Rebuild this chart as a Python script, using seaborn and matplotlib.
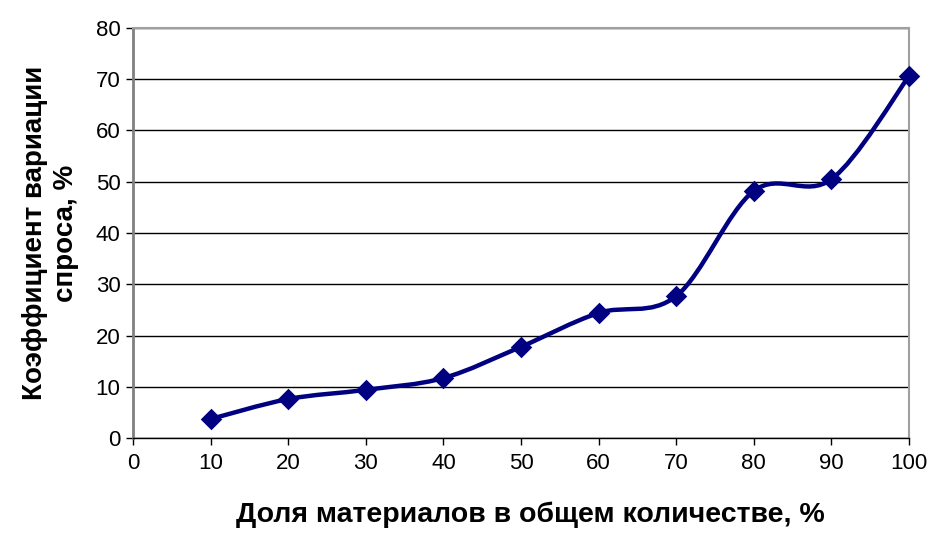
import numpy as np
import pandas as pd
import matplotlib
matplotlib.use("Agg")
import matplotlib.pyplot as plt
from matplotlib.path import Path
from matplotlib.patches import PathPatch
import seaborn as sns

share = [10, 20, 30, 40, 50, 60, 70, 80, 90, 100]
variation = [3.7, 7.6, 9.4, 11.7, 17.8, 24.4, 27.7, 48.2, 50.5, 70.6]

xticks = list(range(0, 101, 10))
yticks = list(range(0, 81, 10))

df = pd.DataFrame({"share": share, "variation": variation})

sns.set_style("white")
plt.rcParams['font.family'] = ['Liberation Sans', 'DejaVu Sans']
plt.rcParams['text.color'] = 'black'
plt.rcParams['axes.labelcolor'] = 'black'
plt.rcParams['xtick.color'] = 'black'
plt.rcParams['ytick.color'] = 'black'

fig = plt.figure(figsize=(9.39, 5.33), dpi=100)
ax = fig.add_axes([0.1416, 0.1782, 0.9681 - 0.1416, 0.9475 - 0.1782])

navy = "#000080"

# smoothed line like Excel (Catmull-Rom bezier through the points)
pts = df[["share", "variation"]].to_numpy(dtype=float)
verts = [tuple(pts[0])]
codes = [Path.MOVETO]
for i in range(len(pts) - 1):
    p0 = pts[i - 1] if i > 0 else pts[i]
    p1 = pts[i]
    p2 = pts[i + 1]
    p3 = pts[i + 2] if i + 2 < len(pts) else pts[i + 1]
    c1 = p1 + (p2 - p0) / 6
    c2 = p2 - (p3 - p1) / 6
    verts += [tuple(c1), tuple(c2), tuple(p2)]
    codes += [Path.CURVE4] * 3
ax.add_patch(PathPatch(Path(verts, codes), facecolor="none", edgecolor=navy,
                       lw=3.2, transform=ax.transData, zorder=3, clip_on=False))

sns.scatterplot(data=df, x="share", y="variation", marker="D", s=120,
                color=navy, edgecolor=navy, linewidth=0, ax=ax, zorder=4,
                clip_on=False)

ax.set_xlim(0, 100)
ax.set_ylim(0, 80)
ax.set_xticks(xticks)
ax.set_yticks(yticks)
ax.yaxis.grid(True, color="black", lw=1)
ax.xaxis.grid(False)
ax.set_axisbelow(True)

for s in ["top", "right"]:
    ax.spines[s].set_color("#a0a0a0")
    ax.spines[s].set_linewidth(1.5)
ax.spines["bottom"].set_color("black")
ax.spines["bottom"].set_linewidth(1)
ax.spines["left"].set_color("#808080")
ax.spines["left"].set_linewidth(2)

ax.tick_params(axis="both", direction="out", length=5, width=1, color="black",
               labelsize=16, labelcolor="black", bottom=True, left=True)
ax.tick_params(axis="x", pad=6)
ax.tick_params(axis="y", pad=4)

ax.set_xlabel("Доля материалов в общем количестве, %", fontsize=20.5,
              fontweight="bold", labelpad=16, color="black")
ax.xaxis.set_label_coords(0.512, -0.155)
ax.set_ylabel("Коэффициент вариации\nспроса, %", fontsize=20,
              fontweight="bold", labelpad=12, linespacing=1.25, color="black")

fig.savefig("out.png", dpi=100)
